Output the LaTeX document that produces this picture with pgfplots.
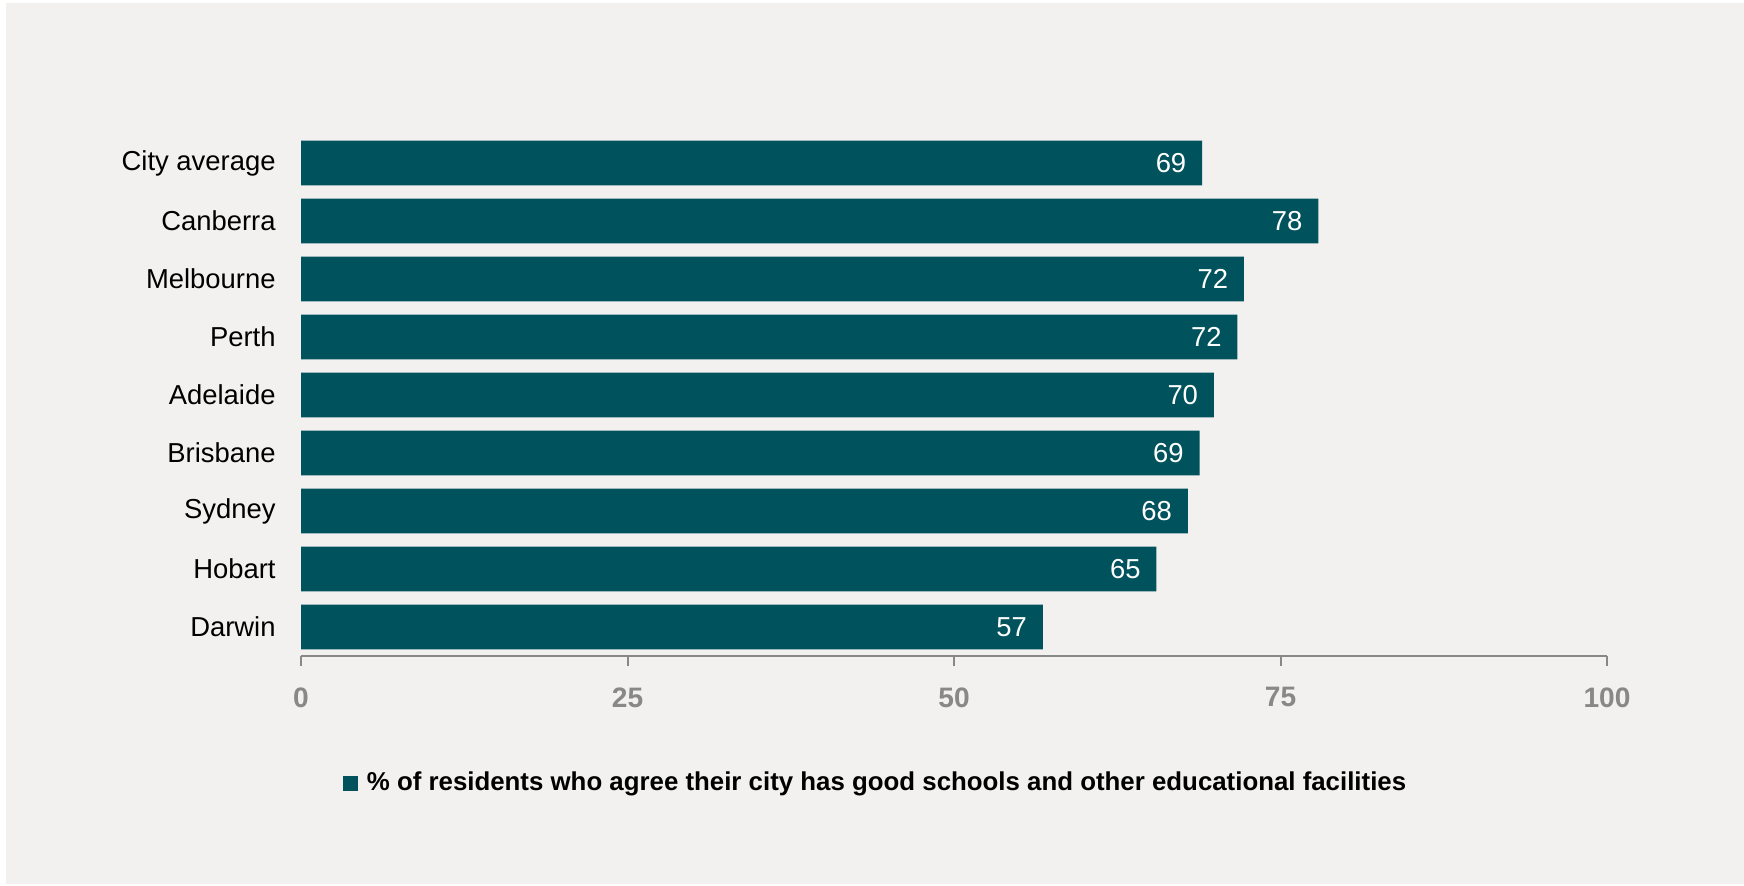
\documentclass[border=0pt]{standalone}
\usepackage{pgfplots}
\pgfplotsset{compat=1.18}
\usepackage{pgfplotstable}
\usepackage{fontspec}
\setmainfont{Liberation Sans}
\definecolor{barteal}{RGB}{0,82,92}
\definecolor{bgc}{RGB}{242,241,239}
\definecolor{axgrey}{RGB}{136,136,136}
\pgfplotstableread{
y x lab
0 69.0 69
1 77.9 78
2 72.2 72
3 71.7 72
4 69.9 70
5 68.8 69
6 67.9 68
7 65.5 65
8 56.8 57
}\datatable
\begin{document}
\begin{tikzpicture}
\fill[white] (0,0) rectangle (174.4mm,88.5mm);
\fill[bgc] (0.6mm,0.1mm) rectangle (174.4mm,88.2mm);
\begin{axis}[
  at={(30.1mm,22.9mm)}, anchor=south west,
  scale only axis, width=130.6mm, height=52.2mm,
  xbar, bar width=0.77,
  xmin=0, xmax=100, ymin=-0.5, ymax=8.5,
  y dir=reverse,
  axis x line*=bottom, axis y line*=left,
  y axis line style={draw=none},
  x axis line style={axgrey, line width=0.2mm},
  xtick={0,25,50,75,100},
  xtick style={axgrey, line width=0.2mm},
  ytick style={draw=none},
  tick align=outside,
  major tick length=1mm,
  ytick={0,...,8},
  yticklabels={City average,Canberra,Melbourne,Perth,Adelaide,Brisbane,Sydney,Hobart,Darwin},
  yticklabel style={font=\fontsize{7.8}{9}\selectfont, black, xshift=-0.3mm},
  xticklabel style={font=\fontsize{8}{9.6}\selectfont\bfseries, text=axgrey, yshift=-0.9mm},
  /pgf/number format/assume math mode=true,
  point meta=explicit symbolic,
  nodes near coords,
  nodes near coords style={font=\fontsize{7.8}{9}\selectfont, text=white, anchor=east, xshift=-0.35mm},
  legend style={at={(0.4426,-0.245)}, anchor=center, draw=none, fill=none,
    font=\fontsize{7.35}{9}\selectfont\bfseries, nodes={inner xsep=0.9mm}},
  legend image code/.code={\fill[barteal] (0mm,-0.75mm) rectangle (1.5mm,0.75mm);},
]
\addplot[fill=barteal, draw=none] table[x=x, y=y, meta=lab] {\datatable};
\addlegendentry{\% of residents who agree their city has good schools and other educational facilities}
\end{axis}
\end{tikzpicture}
\end{document}
